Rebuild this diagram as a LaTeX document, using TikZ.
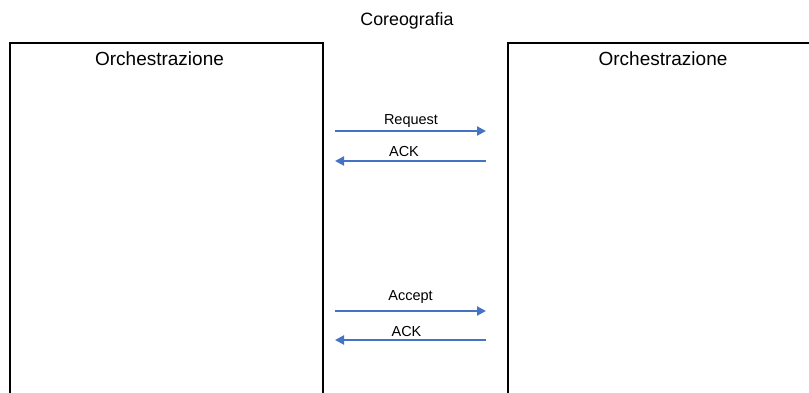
\documentclass[tikz,border=0pt]{standalone}
\usepackage{fontspec}
\setmainfont{Liberation Sans}
\usetikzlibrary{arrows.meta}
\definecolor{msgblue}{HTML}{4472C4}
\begin{document}
\begin{tikzpicture}[x=1pt,y=-1pt,
    party/.style={draw,line width=1.8pt,minimum height=420pt,anchor=north west,inner sep=0pt},
    msg/.style={msgblue,line width=2pt,-{Triangle[length=9pt,width=9pt]}},
    lbl/.style={anchor=base,inner sep=0pt,font=\fontsize{14.5}{17}\selectfont}]
    \useasboundingbox (0,0) rectangle (809,392);
    \clip (0,0) rectangle (809,392);
    \node [party,minimum width=313pt] (left) at (9,42) {};
    \node [party,minimum width=330pt] (right) at (507,42) {};
    \node [anchor=base,font=\fontsize{17.8}{21}\selectfont] (title) at (407,25) {Coreografia};
    \node [anchor=base,font=\fontsize{19}{22}\selectfont] (lname) at (159.5,65) {Orchestrazione};
    \node [anchor=base,font=\fontsize{19}{22}\selectfont] (rname) at (663,65) {Orchestrazione};
    \coordinate (l1) at (335,131); \coordinate (r1) at (486,131);
    \coordinate (l2) at (335,161); \coordinate (r2) at (486,161);
    \coordinate (l3) at (335,311); \coordinate (r3) at (486,311);
    \coordinate (l4) at (335,340); \coordinate (r4) at (486,340);
    \draw [msg] (l1) -- (r1);
    \draw [msg] (r2) -- (l2);
    \draw [msg] (l3) -- (r3);
    \draw [msg] (r4) -- (l4);
    \node [lbl] (req) at (411,124) {Request};
    \node [lbl] (ack1) at (404,156) {ACK};
    \node [lbl] (acc) at (410.5,300) {Accept};
    \node [lbl] (ack2) at (406.5,336) {ACK};
\end{tikzpicture}
\end{document}
